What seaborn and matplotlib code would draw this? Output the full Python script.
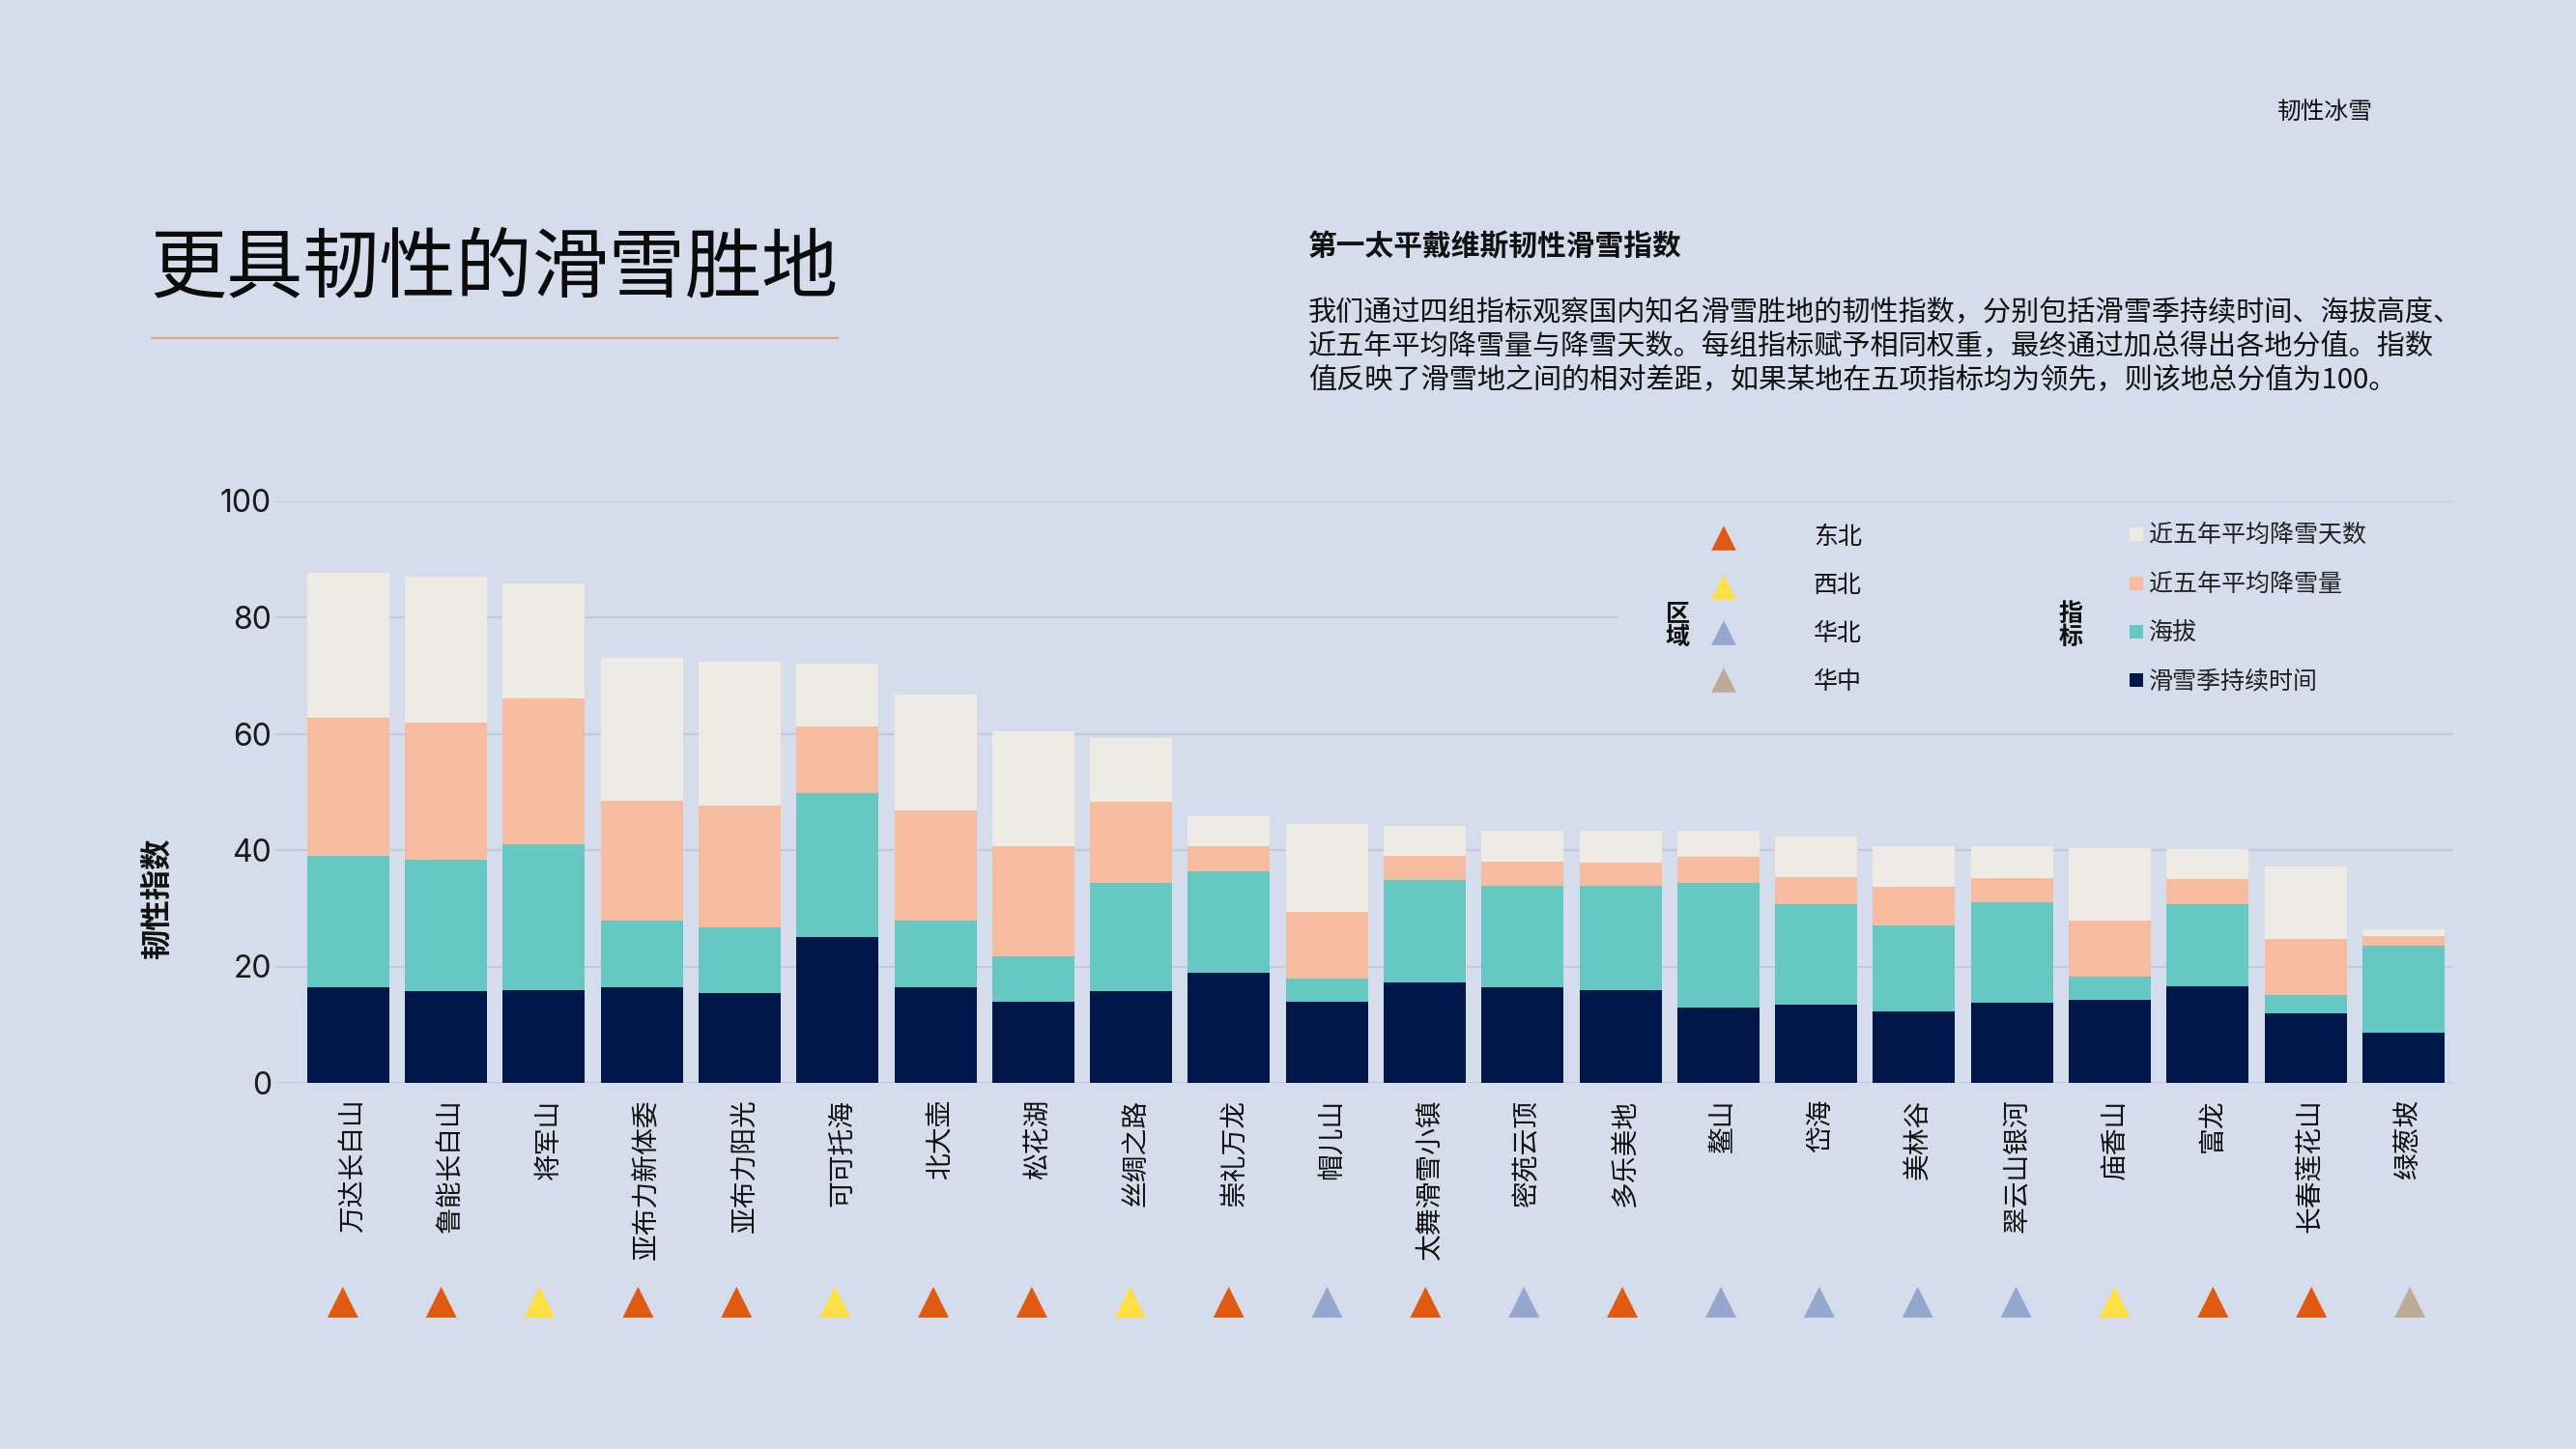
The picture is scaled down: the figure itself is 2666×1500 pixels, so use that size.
import matplotlib
matplotlib.use('Agg')

import numpy as np
import pandas as pd
import matplotlib.pyplot as plt
from matplotlib.patches import Rectangle
from matplotlib.transforms import ScaledTranslation
import seaborn as sns

W, H = 2666, 1500
BG = '#D5DCEB'
CJK = ['Noto Sans CJK SC', 'DejaVu Sans']

resorts = ['万达长白山', '鲁能长白山', '将军山', '亚布力新体委', '亚布力阳光', '可可托海', '北大壶', '松花湖',
           '丝绸之路', '崇礼万龙', '帽儿山', '太舞滑雪小镇', '密苑云顶', '多乐美地', '鳌山', '岱海',
           '美林谷', '翠云山银河', '庙香山', '富龙', '长春莲花山', '绿葱坡']
regions = ['东北', '东北', '西北', '东北', '东北', '西北', '东北', '东北',
           '西北', '东北', '华北', '东北', '华北', '东北', '华北', '华北',
           '华北', '华北', '西北', '东北', '东北', '华中']
season = [16.5, 15.8, 16.0, 16.5, 15.5, 25.0, 16.4, 14.0, 15.8, 19.0, 13.9,
          17.2, 16.4, 16.0, 13.0, 13.4, 12.2, 13.8, 14.3, 16.6, 11.9, 8.7]
altitude = [22.5, 22.5, 25.0, 11.4, 11.3, 24.8, 11.5, 7.7, 18.5, 17.4, 4.1,
            17.6, 17.4, 17.8, 21.3, 17.3, 14.8, 17.2, 3.9, 14.1, 3.2, 14.8]
snowfall = [23.7, 23.6, 25.0, 20.6, 20.8, 11.5, 18.9, 18.9, 14.0, 4.2, 11.3,
            4.2, 4.2, 4.1, 4.5, 4.7, 6.7, 4.2, 9.7, 4.3, 9.6, 1.7]
snow_days = [25.0, 25.1, 19.8, 24.5, 24.7, 10.7, 19.9, 19.8, 11.0, 5.2, 15.2,
             5.2, 5.4, 5.4, 4.5, 6.9, 6.9, 5.4, 12.5, 5.2, 12.5, 1.2]

metric_names = ['近五年平均降雪天数', '近五年平均降雪量', '海拔', '滑雪季持续时间']
metric_colors = ['#EEEAE4', '#F7BCA0', '#66C8C3', '#00174A']
region_names = ['东北', '西北', '华北', '华中']
region_colors = ['#E05A12', '#FFE044', '#93A8CC', '#BDAA99']
yticks = [0, 20, 40, 60, 80, 100]

sns.set_theme(style='white')
plt.rcParams['font.family'] = CJK
plt.rcParams['axes.unicode_minus'] = False

df = pd.DataFrame({'resort': resorts, 'region': regions, 'season': season,
                   'altitude': altitude, 'snowfall': snowfall, 'snow_days': snow_days})
df['top1'] = df['season']
df['top2'] = df['top1'] + df['altitude']
df['top3'] = df['top2'] + df['snowfall']
df['top4'] = df['top3'] + df['snow_days']

fig = plt.figure(figsize=(W / 100, H / 100), dpi=100, facecolor=BG)


def axes_px(x0, y0, x1, y1, **kw):
    return fig.add_axes([x0 / W, 1 - y1 / H, (x1 - x0) / W, (y1 - y0) / H], **kw)


ax = axes_px(285, 518.5, 2538, 1121)
ax.set_facecolor('none')
for col, color in zip(['top4', 'top3', 'top2', 'top1'], metric_colors):
    sns.barplot(data=df, x='resort', y=col, color=color, saturation=1, width=0.84,
                linewidth=0, ax=ax, zorder=2)
ax.set_xlim(-0.744, 21.5)
ax.set_ylim(0, 100)
ax.tick_params(axis='x', length=0, pad=12)
ax.tick_params(axis='y', length=0, pad=3)
ax.set_yticks(yticks)
ax.set_yticklabels([str(v) for v in yticks], fontsize=23, family='Inter', color='#1a1a1a')
ax.set_xticks(range(len(resorts)))
ax.set_xticklabels(resorts, rotation=90, fontsize=20, color='#111111', ha='center', va='top')
# labels sit a little right of the bar centres
for lab in ax.get_xticklabels():
    lab.set_transform(lab.get_transform() + ScaledTranslation(0.05, 0, fig.dpi_scale_trans))
ax.grid(axis='y', color='#C2C9DB', linewidth=1.4, zorder=1)
ax.grid(axis='x', visible=False)
ax.set_axisbelow(True)
ax.set_xlabel('')
ax.set_ylabel('')
sns.despine(ax=ax, left=True, bottom=True)

# triangle strip under the tick labels, spaced slightly wider than the bars
strip = axes_px(279, 1318, 2545, 1378)
strip.axis('off')
sns.scatterplot(data=df, x='resort', y=[0] * len(df), hue='region', hue_order=region_names,
                palette=region_colors, marker='^', s=530, linewidth=0, legend=False, ax=strip)
strip.set_xlim(-0.744, 21.5)
strip.set_ylim(-1, 1)

# overlay in pixel coordinates for header and legend
top = axes_px(0, 0, W, H)
top.axis('off')
top.set_xlim(0, W)
top.set_ylim(H, 0)

top.add_patch(Rectangle((1675, 530), 863, 225, color=BG, lw=0, zorder=1))

top.text(155, 279, '更具韧性的滑雪胜地', fontsize=57, color='#0b0b0b', va='center', ha='left')
top.plot([157, 867], [350, 350], color='#E6A27E', lw=1.5)
top.text(2456, 116, '韧性冰雪', fontsize=17.8, color='#111111', va='center', ha='right')
top.text(1354, 255, '第一太平戴维斯韧性滑雪指数', fontsize=21.4, fontweight='bold', color='#111111', va='center')
body = ['我们通过四组指标观察国内知名滑雪胜地的韧性指数，分别包括滑雪季持续时间、海拔高度、',
        '近五年平均降雪量与降雪天数。每组指标赋予相同权重，最终通过加总得出各地分值。指数',
        '值反映了滑雪地之间的相对差距，如果某地在五项指标均为领先，则该地总分值为100。']
for line, y in zip(body, [324, 359, 394]):
    top.text(1354, y, line, fontsize=21, color='#111111', va='center')

top.text(163, 929, '韧性指数', fontsize=22.6, fontweight='bold', color='#111111', rotation=90,
         va='center', ha='center')

legend_y = [556, 606, 656, 706]
marker_y = [557, 608, 655, 704]
top.text(1736, 648, '区\n域', fontsize=18, fontweight='bold', color='#111111', va='center', ha='center',
         linespacing=1.05)
top.text(2143, 648, '指\n标', fontsize=18, fontweight='bold', color='#111111', va='center', ha='center',
         linespacing=1.05)
sns.scatterplot(x=[1784] * 4, y=marker_y, hue=region_names, hue_order=region_names,
                palette=region_colors, marker='^', s=340, linewidth=0, legend=False, ax=top, zorder=3)
for name, y in zip(region_names, legend_y):
    top.text(1877, y, name, fontsize=18, color='#111111', va='center')
for name, color, y in zip(metric_names, metric_colors, [553, 604, 654, 704]):
    top.add_patch(Rectangle((2204, y - 7), 14, 14, color=color, lw=0, zorder=3))
    top.text(2224, y + 1, name, fontsize=18, color='#222222', va='center')
top.set_xlim(0, W)
top.set_ylim(H, 0)

fig.savefig('out.png', dpi=100, facecolor=BG)
